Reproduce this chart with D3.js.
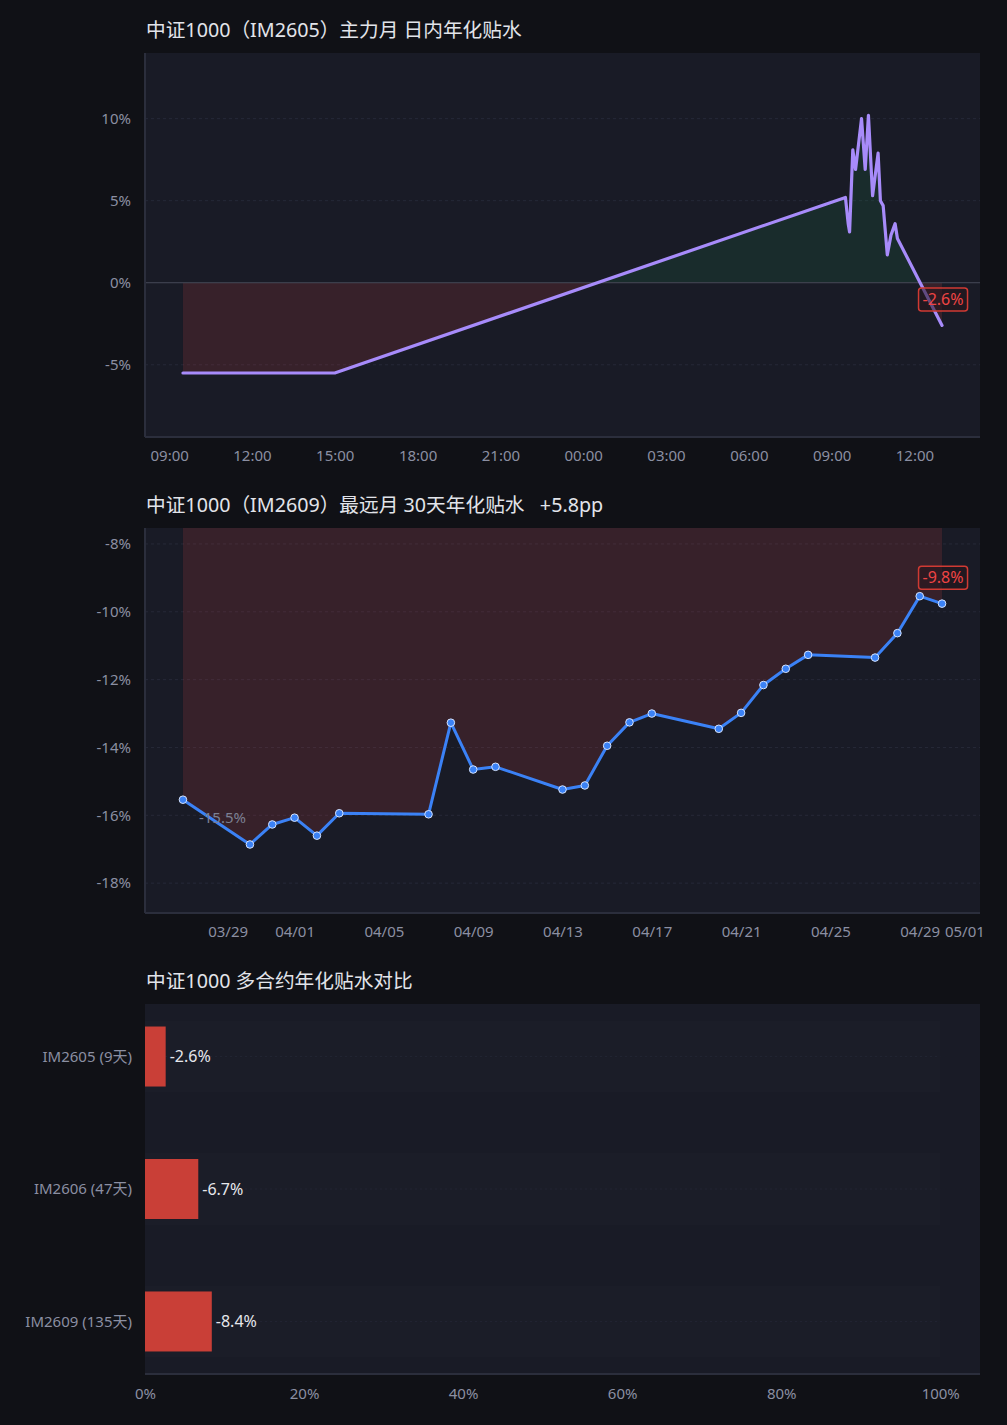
<!DOCTYPE html>
<html lang="zh-CN">
<head>
<meta charset="UTF-8">
<title>中证1000 年化贴水</title>
<style>
body { margin: 0; background: #101116; }
text { font-family: "Noto Sans", "Noto Sans CJK SC", sans-serif; }
</style>
<script src="https://d3js.org/d3.v7.min.js"></script>
</head>
<body>
<script>
// IM2605 主力月 日内年化贴水 (%)
var intraTimes = ["2026-04-29 09:30", "2026-04-29 15:00",
    "2026-04-30 09:30", "2026-04-30 09:36", "2026-04-30 09:39", "2026-04-30 09:46", "2026-04-30 09:52",
    "2026-04-30 10:05", "2026-04-30 10:13", "2026-04-30 10:20", "2026-04-30 10:29", "2026-04-30 10:41",
    "2026-04-30 10:46", "2026-04-30 10:52", "2026-04-30 11:01", "2026-04-30 11:09", "2026-04-30 11:18",
    "2026-04-30 11:23", "2026-04-30 13:00"];
var intraValues = [-5.5, -5.5,
    5.2, 3.6, 3.1, 8.1, 6.9,
    10.0, 6.9, 10.2, 5.3, 7.9,
    5.0, 4.7, 1.7, 2.9, 3.6,
    2.7, -2.6];

// IM2609 最远月 30天年化贴水 (%)
var farDates = ["2026-03-27", "2026-03-30", "2026-03-31", "2026-04-01", "2026-04-02", "2026-04-03",
    "2026-04-07", "2026-04-08", "2026-04-09", "2026-04-10", "2026-04-13", "2026-04-14", "2026-04-15",
    "2026-04-16", "2026-04-17", "2026-04-20", "2026-04-21", "2026-04-22", "2026-04-23", "2026-04-24",
    "2026-04-27", "2026-04-28", "2026-04-29", "2026-04-30"];
var farValues = [-15.54, -16.86, -16.27, -16.07, -16.6, -15.94,
    -15.97, -13.27, -14.65, -14.57, -15.24, -15.12, -13.95,
    -13.26, -13.0, -13.45, -12.98, -12.16, -11.68, -11.27,
    -11.35, -10.63, -9.54, -9.76];

// 多合约对比
var contracts = ["IM2605", "IM2606", "IM2609"];
var contractDays = [9, 47, 135];
var contractValues = [-2.6, -6.7, -8.4];

var W = 1007, H = 1425;
var left = 145, right = 980;
var negFill = "rgba(239,68,68,0.14)", posFill = "rgba(34,197,94,0.10)";
var gridColor = "#262938", axisColor = "#2b2e3c", tickColor = "#8b8fa2";

var svg = d3.select("body").append("svg")
    .attr("width", W).attr("height", H);
svg.append("rect").attr("width", W).attr("height", H).attr("fill", "#101116");
var defs = svg.append("defs");

function frame(top, bottom, title, id) {
    svg.append("rect")
        .attr("x", left).attr("y", top)
        .attr("width", right - left).attr("height", bottom - top)
        .attr("fill", "#191b26");
    var t = svg.append("text")
        .attr("x", 146).attr("y", top - 16)
        .attr("fill", "#e2e4ea")
        .attr("font-size", 19.7)
        .style("white-space", "pre")
        .text(title);
    defs.append("clipPath").attr("id", id)
        .append("rect")
        .attr("x", left).attr("y", top)
        .attr("width", right - left).attr("height", bottom - top);
    return t;
}

function styleAxis(g) {
    g.select(".domain").remove();
    g.selectAll("text").attr("fill", tickColor).attr("font-size", 15);
}

function axisLines(top, bottom, withLeft) {
    if (withLeft) {
        svg.append("line")
            .attr("x1", left).attr("x2", left).attr("y1", top).attr("y2", bottom)
            .attr("stroke", axisColor).attr("stroke-width", 2);
    }
    svg.append("line")
        .attr("x1", left).attr("x2", right).attr("y1", bottom).attr("y2", bottom)
        .attr("stroke", axisColor).attr("stroke-width", 2);
}

function valueBox(cx, cy, txt) {
    svg.append("rect")
        .attr("x", cx - 24.5).attr("y", cy - 11.5)
        .attr("width", 49).attr("height", 23).attr("rx", 3)
        .attr("fill", "rgba(40,22,28,0.55)")
        .attr("stroke", "#d03a33").attr("stroke-width", 1.5);
    svg.append("text")
        .attr("x", cx).attr("y", cy)
        .attr("dy", "0.36em")
        .attr("text-anchor", "middle")
        .attr("fill", "#ef4444")
        .attr("font-size", 16)
        .text(txt);
}

// ---------- 1. 日内年化贴水 ----------
(function () {
    var top = 53, bottom = 437;
    var parseTime = d3.timeParse("%Y-%m-%d %H:%M");
    var data = intraTimes.map(function (t, i) { return {t: parseTime(t), v: intraValues[i]}; });
    var ext = d3.extent(data, function (d) { return d.t; });
    var pad = (ext[1] - ext[0]) * 0.05;

    frame(top, bottom, "中证1000（IM2605）主力月 日内年化贴水", "clip1");

    var x = d3.scaleTime()
        .domain([new Date(+ext[0] - pad), new Date(+ext[1] + pad)])
        .range([left, right]);
    var y = d3.scaleLinear().domain([-9.4, 14]).range([bottom, top]);

    svg.append("g").selectAll("line")
        .data(y.ticks(5).filter(function (d) { return d !== 0; }))
        .enter().append("line")
        .attr("x1", left).attr("x2", right)
        .attr("y1", function (d) { return y(d); }).attr("y2", function (d) { return y(d); })
        .attr("stroke", gridColor).attr("stroke-dasharray", "3,3");

    // fills split at zero
    defs.append("clipPath").attr("id", "above0").append("rect")
        .attr("x", left).attr("y", top).attr("width", right - left).attr("height", y(0) - top);
    defs.append("clipPath").attr("id", "below0").append("rect")
        .attr("x", left).attr("y", y(0)).attr("width", right - left).attr("height", bottom - y(0));

    var area = d3.area()
        .x(function (d) { return x(d.t); })
        .y0(y(0))
        .y1(function (d) { return y(d.v); });
    svg.append("path").attr("d", area(data)).attr("fill", posFill).attr("clip-path", "url(#above0)");
    svg.append("path").attr("d", area(data)).attr("fill", negFill).attr("clip-path", "url(#below0)");

    svg.append("line")
        .attr("x1", left).attr("x2", right).attr("y1", y(0)).attr("y2", y(0))
        .attr("stroke", "#474a58").attr("stroke-width", 1);

    var line = d3.line()
        .x(function (d) { return x(d.t); })
        .y(function (d) { return y(d.v); });
    svg.append("path")
        .attr("d", line(data))
        .attr("fill", "none")
        .attr("stroke", "#a78bfa").attr("stroke-width", 3.2)
        .attr("stroke-linejoin", "round").attr("stroke-linecap", "round");

    var last = data[data.length - 1];
    valueBox(x(last.t) + 1, y(last.v) - 26, last.v.toFixed(1) + "%");

    svg.append("g")
        .attr("transform", "translate(" + left + ",0)")
        .call(d3.axisLeft(y).ticks(5).tickSize(0).tickPadding(14)
            .tickFormat(function (d) { return d + "%"; }))
        .call(styleAxis);
    svg.append("g")
        .attr("transform", "translate(0," + bottom + ")")
        .call(d3.axisBottom(x).ticks(d3.timeHour.every(3)).tickSize(0).tickPadding(13)
            .tickFormat(d3.timeFormat("%H:%M")))
        .call(styleAxis);
    axisLines(top, bottom, true);
})();

// ---------- 2. 最远月 30天年化贴水 ----------
(function () {
    var top = 528, bottom = 913;
    var parseDate = d3.timeParse("%Y-%m-%d");
    var data = farDates.map(function (t, i) { return {t: parseDate(t), v: farValues[i]}; });
    var ext = d3.extent(data, function (d) { return d.t; });
    var pad = (ext[1] - ext[0]) * 0.05;
    var change = data[data.length - 1].v - data[0].v;

    var t = frame(top, bottom, "中证1000（IM2609）最远月 30天年化贴水", "clip2");
    t.append("tspan").text("   " + (change >= 0 ? "+" : "") + change.toFixed(1) + "pp");

    var x = d3.scaleTime()
        .domain([new Date(+ext[0] - pad), new Date(+ext[1] + pad)])
        .range([left, right]);
    var y = d3.scaleLinear().domain([-18.88, -7.53]).range([bottom, top]);

    svg.append("g").selectAll("line")
        .data(y.ticks(6))
        .enter().append("line")
        .attr("x1", left).attr("x2", right)
        .attr("y1", function (d) { return y(d); }).attr("y2", function (d) { return y(d); })
        .attr("stroke", gridColor).attr("stroke-dasharray", "3,3");

    var area = d3.area()
        .x(function (d) { return x(d.t); })
        .y0(y(0))
        .y1(function (d) { return y(d.v); });
    svg.append("path").attr("d", area(data)).attr("fill", negFill).attr("clip-path", "url(#clip2)");

    var line = d3.line()
        .x(function (d) { return x(d.t); })
        .y(function (d) { return y(d.v); });
    svg.append("path")
        .attr("d", line(data))
        .attr("fill", "none")
        .attr("stroke", "#3b82f6").attr("stroke-width", 3)
        .attr("stroke-linejoin", "round");

    svg.append("g").selectAll("circle")
        .data(data).enter().append("circle")
        .attr("cx", function (d) { return x(d.t); })
        .attr("cy", function (d) { return y(d.v); })
        .attr("r", 3.8)
        .attr("fill", "#3b82f6")
        .attr("stroke", "#d6e4ff").attr("stroke-width", 1);

    var first = data[0], last = data[data.length - 1];
    svg.append("text")
        .attr("x", x(first.t) + 16).attr("y", y(first.v) + 23)
        .attr("fill", "#7c8093").attr("font-size", 15)
        .text(first.v.toFixed(1) + "%");
    valueBox(x(last.t) + 1, y(last.v) - 26, last.v.toFixed(1) + "%");

    svg.append("g")
        .attr("transform", "translate(" + left + ",0)")
        .call(d3.axisLeft(y).ticks(6).tickSize(0).tickPadding(14)
            .tickFormat(function (d) { return d + "%"; }))
        .call(styleAxis);
    svg.append("g")
        .attr("transform", "translate(0," + bottom + ")")
        .call(d3.axisBottom(x).ticks(d3.timeDay.every(4)).tickSize(0).tickPadding(13)
            .tickFormat(d3.timeFormat("%m/%d")))
        .call(styleAxis);
    axisLines(top, bottom, true);
})();

// ---------- 3. 多合约年化贴水对比 ----------
(function () {
    var top = 1004, bottom = 1374;
    frame(top, bottom, "中证1000 多合约年化贴水对比", "clip3");

    var x = d3.scaleLinear().domain([0, 105]).range([left, right]);
    var y = d3.scaleBand().domain(contracts).range([top, bottom])
        .paddingInner(0.547).paddingOuter(0.17);
    var bw = y.bandwidth();

    var rows = svg.append("g").selectAll("g")
        .data(contracts).enter().append("g");

    rows.append("rect")
        .attr("x", x(0)).attr("width", x(100) - x(0))
        .attr("y", function (d) { return y(d) - 6; })
        .attr("height", bw + 12)
        .attr("fill", "rgba(255,255,255,0.012)");
    rows.append("line")
        .attr("x1", x(0)).attr("x2", x(100))
        .attr("y1", function (d) { return y(d) + bw / 2; })
        .attr("y2", function (d) { return y(d) + bw / 2; })
        .attr("stroke", "#222533").attr("stroke-dasharray", "2,3");
    rows.append("rect")
        .attr("x", x(0))
        .attr("y", function (d) { return y(d); })
        .attr("height", bw)
        .attr("width", function (d, i) { return x(Math.abs(contractValues[i])) - x(0); })
        .attr("fill", "#c93f37");
    rows.append("text")
        .attr("x", function (d, i) { return x(Math.abs(contractValues[i])) + 4; })
        .attr("y", function (d) { return y(d) + bw / 2; })
        .attr("dy", "0.35em")
        .attr("fill", "#e6e7ec").attr("font-size", 16)
        .text(function (d, i) { return contractValues[i].toFixed(1) + "%"; });
    rows.append("text")
        .attr("x", 132)
        .attr("y", function (d) { return y(d) + bw / 2; })
        .attr("dy", "0.35em")
        .attr("text-anchor", "end")
        .attr("fill", tickColor).attr("font-size", 15)
        .text(function (d, i) { return d + " (" + contractDays[i] + "天)"; });

    svg.append("g")
        .attr("transform", "translate(0," + bottom + ")")
        .call(d3.axisBottom(x).ticks(5).tickSize(0).tickPadding(14)
            .tickFormat(function (d) { return d + "%"; }))
        .call(styleAxis);
    axisLines(top, bottom, false);
})();
</script>
</body>
</html>
